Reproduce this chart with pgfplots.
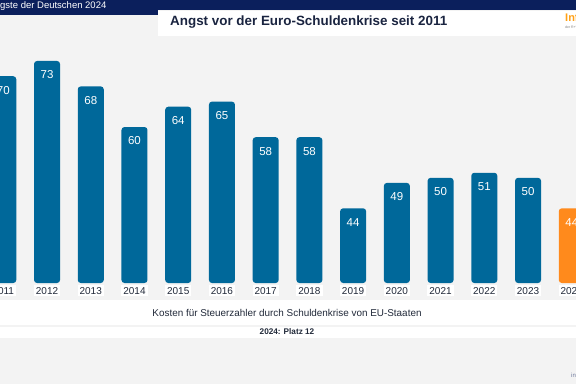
\documentclass[border=0pt]{standalone}
\usepackage{pgfplots}
\pgfplotsset{compat=1.18}
\usepackage{fontspec}
\setmainfont{Liberation Sans}
\definecolor{bg}{HTML}{F3F3F3}
\definecolor{navy}{HTML}{0B1F5C}
\definecolor{barblue}{HTML}{00689A}
\definecolor{barorange}{HTML}{FF8A1C}
\definecolor{titlecol}{HTML}{1A2440}
\definecolor{txtcol}{HTML}{222A3A}
\begin{document}
\begin{tikzpicture}
\path[use as bounding box] (0,0) rectangle (576pt,384pt);
\begin{scope}
\clip (0,0) rectangle (576pt,384pt);
\fill[bg] (0,0) rectangle (576pt,384pt);
% top band
\fill[navy] (0,374pt) rectangle (576pt,384pt);
\fill[navy] (0,369pt) rectangle (158pt,384pt);
\fill[white] (158pt,348pt) rectangle (576pt,373pt);
\node[anchor=west, text=white, font=\fontsize{9.5}{10}\selectfont, inner sep=0] at (0pt,377.5pt) {gste der Deutschen 2024};
\node[anchor=west, text=titlecol, font=\bfseries\fontsize{13.4}{15}\selectfont, inner sep=0] at (170pt,361.5pt) {Angst vor der Euro-Schuldenkrise seit 2011};
\node[anchor=west, text=barorange!80!yellow, font=\bfseries\fontsize{11}{12}\selectfont, inner sep=0] at (565pt,366pt) {Infocenter};
\node[anchor=west, text=gray, font=\fontsize{3.5}{4}\selectfont, inner sep=0] at (565pt,356pt) {der R+V Versicherung};
% bottom bands
\fill[white] (0,59pt) rectangle (576pt,84pt);
\fill[white] (0,46pt) rectangle (576pt,57pt);
\node[text=txtcol, font=\fontsize{9.9}{11}\selectfont, inner sep=0] at (287pt,71pt) {Kosten für Steuerzahler durch Schuldenkrise von EU-Staaten};
\node[text=txtcol, font=\bfseries\fontsize{8.2}{9}\selectfont, inner sep=0] at (287pt,52pt) {2024: Platz 12};
\node[anchor=west, text=navy!60, font=\fontsize{6}{7}\selectfont, inner sep=0] at (571pt,9pt) {infocenter.ruv.de};
\begin{axis}[
  at={(0pt,101pt)}, anchor=south west,
  scale only axis, width=576pt, height=272pt,
  xmin=2010.9245, xmax=2024.0965,
  ymin=29.3, ymax=82.84,
  axis line style={draw=none},
  major tick length=0pt,
  ytick=\empty,
  xtick={2011,...,2024},
  xticklabel style={/pgf/number format/1000 sep=, font=\fontsize{10}{11}\selectfont, text=txtcol, fill=white, inner sep=2pt, yshift=-2pt},
  /pgf/number format/assume math mode=true,
  ybar, bar width=26pt,
  nodes near coords,
  every node near coord/.append style={anchor=center, yshift=-14pt, text=white, font=\fontsize{11.5}{12}\selectfont},
  clip=true,
]
\addplot[fill=barblue, draw=none, bar shift=0pt, rounded corners=3pt] coordinates {
(2011,70) (2012,73) (2013,68) (2014,60) (2015,64) (2016,65) (2017,58)
(2018,58) (2019,44) (2020,49) (2021,50) (2022,51) (2023,50)};
\addplot[fill=barorange, draw=none, bar shift=0pt, rounded corners=3pt] coordinates {(2024,44)};
\end{axis}
\end{scope}
\end{tikzpicture}
\end{document}
